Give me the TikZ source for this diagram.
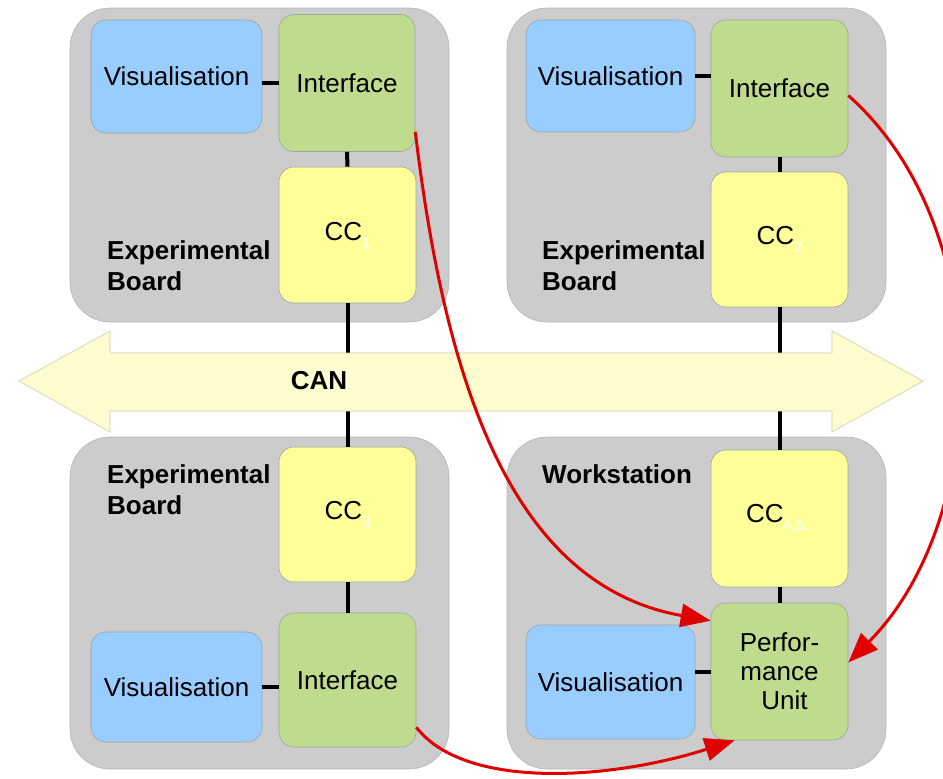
\documentclass[tikz,border=0pt]{standalone}
\usepackage{fontspec}
\setmainfont{Liberation Sans}
\usetikzlibrary{arrows.meta}

\definecolor{panelgray}{HTML}{CCCCCC}
\definecolor{panelline}{HTML}{B4B4B4}
\definecolor{visblue}{HTML}{99CCFF}
\definecolor{ifgreen}{HTML}{BFDC8E}
\definecolor{ccyellow}{HTML}{FFFF99}
\definecolor{boxline}{HTML}{98A8A0}
\definecolor{busfill}{HTML}{FDFDD0}
\definecolor{busline}{HTML}{CDCDA8}
\definecolor{flowred}{HTML}{DF0000}

% white, lowered index after "CC"
\newcommand{\ccindex}[1]{\textcolor{white}{\raisebox{-8pt}{\fontsize{15}{15}\selectfont #1}}}

\tikzset{
  panelbox/.style={fill=panelgray, draw=panelline, line width=0.6pt, rounded corners=40pt},
  unitbox/.style={draw=boxline, line width=0.6pt, rounded corners=15pt, inner sep=0pt,
                  font=\fontsize{26}{29}\selectfont, align=center},
  visbox/.style={unitbox, fill=visblue},
  ifbox/.style={unitbox, fill=ifgreen},
  ccbox/.style={unitbox, fill=ccyellow},
  boardlabel/.style={anchor=north west, inner sep=0pt, align=left,
                     font=\fontsize{26}{31}\selectfont\bfseries},
  wire/.style={line width=4pt, black},
  flowarrow/.style={draw=flowred, line width=3pt,
                    -{Triangle[length=30pt,width=23pt,fill=flowred]}},
}

\begin{document}
\begin{tikzpicture}[x=1pt,y=-1pt]
\useasboundingbox (0,0) rectangle (943,779);

% grey carrier boards
\draw[panelbox] (70,8) rectangle (449,322);
\draw[panelbox] (507,8) rectangle (886,322);
\draw[panelbox] (70,437) rectangle (449,769);
\draw[panelbox] (507,437) rectangle (886,769);

% top left board
\node[visbox, minimum width=171pt, minimum height=113pt] (vis1) at (176.5,76.5) {Visualisation};
\node[ifbox,  minimum width=136pt, minimum height=137pt] (int1) at (347,83) {Interface};
\node[ccbox,  minimum width=137pt, minimum height=136pt] (cc1)  at (347.5,235) {CC\ccindex{1}};
\node[boardlabel] (lab1) at (107,240.5) {Experimental\\Board};

% top right board
\node[visbox, minimum width=169pt, minimum height=112pt] (vis2) at (610.5,76) {Visualisation};
\node[ifbox,  minimum width=137pt, minimum height=137pt] (int2) at (779.5,88.5) {Interface};
\node[ccbox,  minimum width=137pt, minimum height=135pt] (cc2)  at (779.5,239.5) {CC\ccindex{2}};
\node[boardlabel] (lab2) at (542,240.5) {Experimental\\Board};

% bottom left board
\node[ccbox,  minimum width=137pt, minimum height=135pt] (cc3)  at (347.5,514.5) {CC\ccindex{3}};
\node[ifbox,  minimum width=137pt, minimum height=134pt] (int3) at (347.5,680) {Interface};
\node[visbox, minimum width=171pt, minimum height=110pt] (vis3) at (176.5,687) {Visualisation};
\node[boardlabel] (lab3) at (107,464.5) {Experimental\\Board};

% bottom right workstation
\node[ccbox,  minimum width=137pt, minimum height=137pt] (cc4)  at (779.5,518.5) {CC\ccindex{4,5..}};
\node[ifbox,  minimum width=137pt, minimum height=137pt] (perf) at (779.5,671.5) {Perfor-\\mance\\\hspace*{10pt}Unit};
\node[visbox, minimum width=169pt, minimum height=114pt] (vis4) at (610.5,682) {Visualisation};
\node[boardlabel] (lab4) at (542,464.5) {Workstation};

% local wiring
\draw[wire] (int1.west) -- (int1.west -| vis1.east);
\draw[wire] (int1.south) -- (cc1.north);
\draw[wire] (vis2.east) -- (vis2.east -| int2.west);
\draw[wire] (int2.south) -- (cc2.north);
\draw[wire] (vis3.east) -- (vis3.east -| int3.west);
\draw[wire] (cc3.south) -- (int3.north);
\draw[wire] (perf.west) -- (perf.west -| vis4.east);
\draw[wire] (cc4.south) -- (perf.north);

% bus drops
\draw[wire] (cc1.south) -- (cc3.north);
\draw[wire] (cc2.south) -- (cc4.north);

% CAN bus
\fill[busfill, draw=busline, line width=0.6pt]
  (19,381) -- (110,331) -- (110,353) -- (832,353) -- (832,331) -- (923,381)
  -- (832,432) -- (832,411) -- (110,411) -- (110,432) -- cycle;
\node[font=\fontsize{26}{29}\selectfont\bfseries, inner sep=0pt] (can) at (319,381) {CAN};

% data flows to the performance unit
\draw[flowarrow] ([yshift=20pt]int1.south east) .. controls (445,380) and (510,585) .. ([yshift=-18pt]perf.north west);
\draw[flowarrow] ([yshift=-7pt]int2.east) .. controls (1000,230) and (990,520) .. ([yshift=9pt]perf.east);
\draw[flowarrow] ([yshift=20pt]int3.south east) .. controls (465,790) and (610,780) .. ([xshift=24pt]perf.south west);
\end{tikzpicture}
\end{document}
